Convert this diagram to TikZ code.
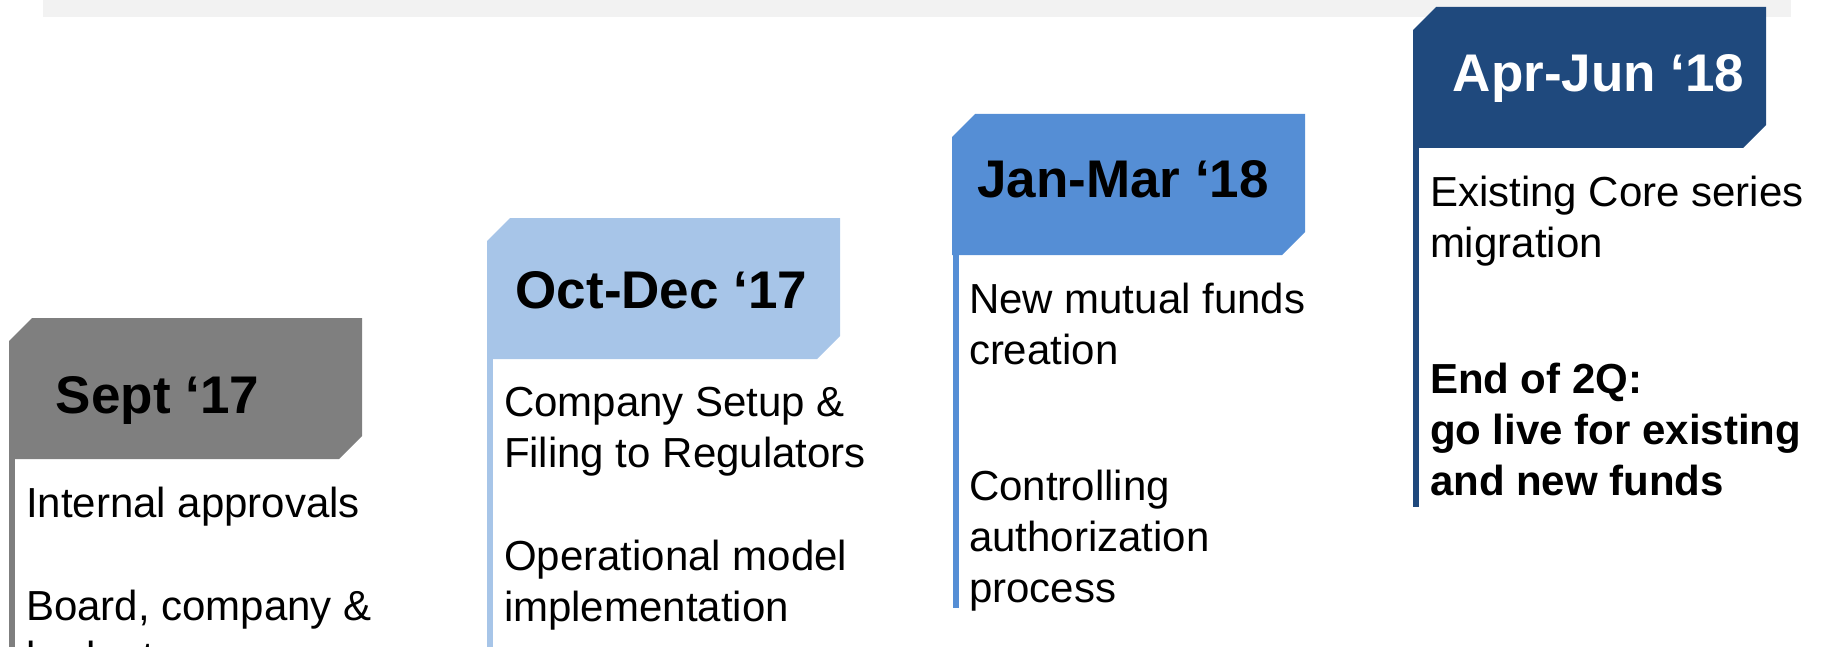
\documentclass[tikz,border=0pt]{standalone}
\usepackage{fontspec}
\setmainfont{Liberation Sans}
\usetikzlibrary{positioning}
\definecolor{SeptGrey}{RGB}{127,127,127}
\definecolor{OctBlue}{RGB}{167,197,232}
\definecolor{JanBlue}{RGB}{85,142,213}
\definecolor{AprBlue}{RGB}{31,73,125}
\definecolor{BandGrey}{RGB}{242,242,242}

\begin{document}
\begin{tikzpicture}[x=0.5pt,y=-0.5pt,
    hdr/.style={minimum width=176.5pt,minimum height=70.5pt,inner sep=0pt,
      path picture={\fill[#1] (path picture bounding box.south west)
        -- ([yshift=-11.5pt]path picture bounding box.north west)
        -- ([xshift=11.5pt]path picture bounding box.north west)
        -- (path picture bounding box.north east)
        -- ([yshift=11.5pt]path picture bounding box.south east)
        -- ([xshift=-11.5pt]path picture bounding box.south east) -- cycle;}},
    title/.style={font=\bfseries\fontsize{26.5pt}{30pt}\selectfont,anchor=base,inner sep=0pt},
    body/.style={font=\fontsize{21pt}{25.5pt}\selectfont,align=left,anchor=north west,inner sep=0pt},
    stem/.style={line width=3pt,draw=#1}
  ]
    \clip (0,0) rectangle (1827,647);
    \fill[BandGrey] (43,0) rectangle (1791,17);
    % headers
    \node[hdr=SeptGrey] (h1) at (185.5,388.5) {};
    \node[hdr=OctBlue] (h2) at (663.5,288.5) {};
    \node[hdr=JanBlue] (h3) at (1128.5,184.5) {};
    \node[hdr=AprBlue] (h4) at (1589.5,77.5) {};
    % stems
    \coordinate (e1) at (12,660);
    \coordinate (e2) at (490,660);
    \coordinate (e3) at (955.5,608);
    \coordinate (e4) at (1416,507);
    \draw[stem=SeptGrey] (h1.south west -| e1) -- (e1);
    \draw[stem=OctBlue] (h2.south west -| e2) -- (e2);
    \draw[stem=JanBlue] (h3.south west -| e3) -- (e3);
    \draw[stem=AprBlue] (h4.south west -| e4) -- (e4);
    % titles
    \node[title] (t1) at ([xshift=-14pt,yshift=-12.5pt]h1.center) {Sept ‘17};
    \node[title] (t2) at ([xshift=-1pt,yshift=-10pt]h2.center) {Oct-Dec ‘17};
    \node[title] (t3) at ([xshift=-2.75pt,yshift=-6.5pt]h3.center) {Jan-Mar ‘18};
    \node[title,text=white] (t4) at ([xshift=4.5pt,yshift=-7pt]h4.center) {Apr-Jun ‘18};
    % text under each header
    \node[body] (b1) at ([xshift=8.5pt,yshift=-13.5pt]h1.south west)
      {Internal approvals\\[26pt]Board, company \&\\budget};
    \node[body] (b2) at ([xshift=8.5pt,yshift=-13.5pt]h2.south west)
      {Company Setup \&\\Filing to Regulators\\[26pt]Operational model\\implementation};
    \node[body] (b3) at ([xshift=8.5pt,yshift=-13.5pt]h3.south west)
      {New mutual funds\\creation\\[42.5pt]Controlling\\authorization\\process};
    \node[body] (b4) at ([xshift=8.5pt,yshift=-13.5pt]h4.south west)
      {Existing Core series\\migration\\[42.5pt]\textbf{End of 2Q:}\\\textbf{go live for existing}\\\textbf{and new funds}};
\end{tikzpicture}
\end{document}
